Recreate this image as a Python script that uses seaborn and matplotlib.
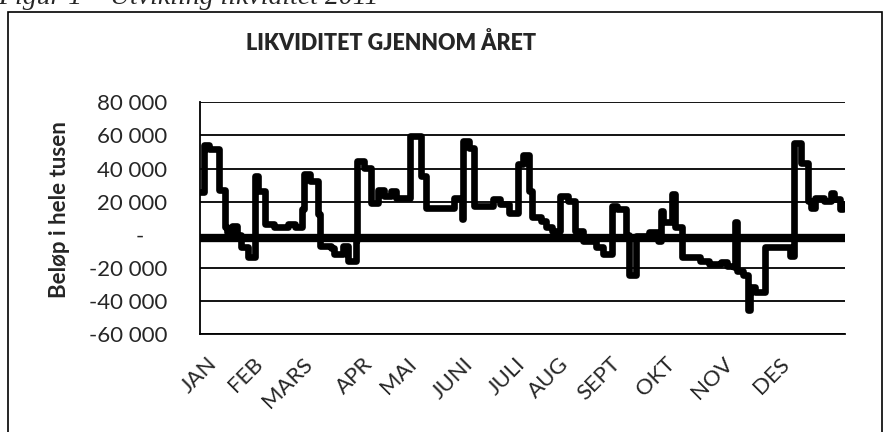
import matplotlib
matplotlib.use("Agg")
import matplotlib.pyplot as plt
import matplotlib.patches as patches
from matplotlib.ticker import FuncFormatter
import pandas as pd
import seaborn as sns

# Likviditet gjennom året (dag i året, beløp i hele tusen)
days = [0, 2, 5, 11, 14, 15, 18, 21, 23, 27, 31, 33, 37, 42, 50, 54, 58, 59, 62, 67,
        68, 74, 76, 81, 84, 88, 89, 93, 97, 101, 104, 108, 111, 119, 125, 128, 144, 148,
        149, 152, 155, 166, 170, 175, 180, 183, 186, 188, 193, 196, 199, 204, 208, 212,
        217, 224, 228, 233, 236, 241, 243, 247, 254, 259, 261, 262, 267, 269, 273, 283,
        288, 295, 298, 302, 303, 304, 307, 310, 311, 314, 320, 334, 336, 340, 344, 346,
        348, 353, 357, 359, 362, 364]
values = [26000, 54000, 52000, 27000, 4500, 1500, 5500, 0, -7500, -13500, 35500, 26500,
          6500, 4500, 6500, 5000, 15500, 36500, 32500, 12500, -6500, -8000, -11500, -7000,
          -15500, -3000, 44500, 40500, 19500, 27000, 23500, 26500, 22500, 59500, 35500,
          16500, 22500, 9500, 56500, 52500, 17500, 21500, 18500, 13500, 42500, 48500,
          26500, 10500, 8500, 4500, 2500, 23500, 20500, 2500, -3500, -7500, -11500, 17500,
          15500, 0, -24500, -500, 2000, -3500, 14500, 7500, 24500, 4500, -13500, -15500,
          -17500, -16500, -18500, -19500, 7500, -21500, -24500, -45500, -31500, -34500,
          -7500, -12500, 55500, 43500, 20500, 16500, 22500, 20500, 25500, 21500, 15500,
          18500]
min_level = -2000

months = ["JAN", "FEB", "MARS", "APR", "MAI", "JUNI", "JULI", "AUG", "SEPT", "OKT", "NOV", "DES"]
month_pos = [4, 30, 58, 92, 117, 149, 178, 203, 232, 263, 296, 328]
y_ticks = [-60000, -40000, -20000, 0, 20000, 40000, 60000, 80000]

df = pd.DataFrame({"dag": days, "belop": values})
df_min = pd.DataFrame({"dag": [0, 365], "belop": [min_level, min_level]})

sns.set_style("white")
plt.rcParams["font.family"] = ["Lato", "DejaVu Sans"]

fig = plt.figure(figsize=(8.89, 4.32), dpi=100)
ax = fig.add_axes([200 / 889, 1 - 334.3 / 432, 645 / 889, 232 / 432])

sns.lineplot(data=df_min, x="dag", y="belop", color="black", linewidth=6, ax=ax,
             solid_capstyle="butt")
sns.lineplot(data=df, x="dag", y="belop", color="black", linewidth=4.8, ax=ax,
             estimator=None, drawstyle="steps-post")

ax.set_xlim(0, 365)
ax.set_ylim(-60000, 80000)
ax.set_yticks(y_ticks)
ax.yaxis.set_major_formatter(FuncFormatter(
    lambda v, p: "-    " if v == 0 else f"{v:,.0f}".replace(",", " ")))
ax.yaxis.grid(True, color="black", linewidth=1.3)
ax.set_xticks(month_pos)
ax.set_xticklabels(months, rotation=45, ha="right", va="top", rotation_mode="anchor")
ax.tick_params(axis="x", length=0, pad=14, labelsize=16)
ax.tick_params(axis="y", length=5, width=1.3, color="black", pad=18.7, labelsize=16)
ax.set_xlabel("")
ax.set_ylabel("")
for s in ["top", "right"]:
    ax.spines[s].set_visible(False)
ax.spines["left"].set_color("black")
ax.spines["left"].set_linewidth(1.3)
ax.spines["bottom"].set_color("black")
ax.spines["bottom"].set_linewidth(1.3)

fig.text(391 / 889, 1 - 50 / 432, "LIKVIDITET GJENNOM ÅRET", weight="heavy",
         fontsize=15.5, ha="center", va="baseline")
fig.text(60 / 889, 1 - 210 / 432, "Beløp i hele tusen", rotation=90, weight="bold",
         fontsize=16, ha="center", va="center")
fig.text(-2 / 889, 1 - 4 / 432, "Figur 1 – Utvikling likviditet 2011",
         family="Liberation Serif", style="italic", fontsize=20, va="baseline", ha="left")
fig.add_artist(patches.Rectangle((8 / 889, -0.1), 874 / 889, 1.1 - 12 / 432,
                                 transform=fig.transFigure, fill=False,
                                 edgecolor="black", linewidth=1.2))

fig.savefig("out.png", dpi=100)
